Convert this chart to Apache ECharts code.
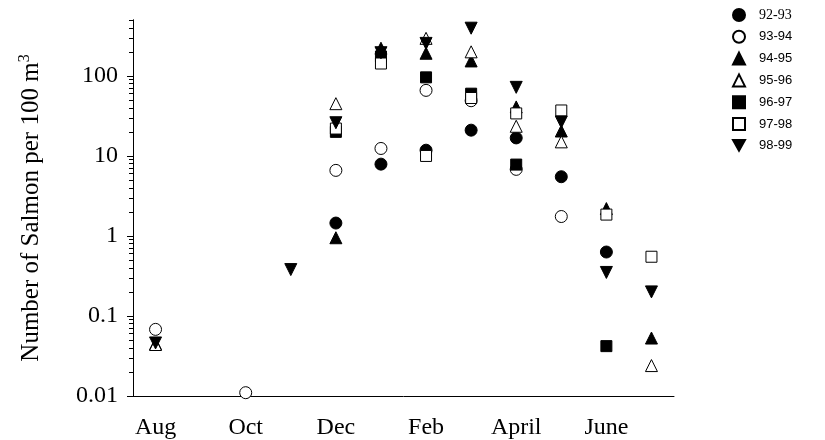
<!DOCTYPE html>
<html>
<head>
<meta charset="utf-8">
<script src="https://cdn.jsdelivr.net/npm/echarts@6/dist/echarts.min.js"></script>
<style>
html,body{margin:0;padding:0;background:#fff;}
#c{width:825px;height:440px;}
</style>
</head>
<body>
<div id="c"></div>
<script>
// Months (category axis), labels shown every other month
const months = ["Aug","Sep","Oct","Nov","Dec","Jan","Feb","Mar","April","May","June","July"];
const seasons = ["92-93","93-94","94-95","95-96","96-97","97-98","98-99"];
// Salmon per 100 m^3, one value per month ('-' = no sample)
const s9293 = ['-','-','-','-',1.45,7.9,11.8,21,16.8,5.5,0.63,'-'];
const s9394 = [0.068,'-',0.011,'-',6.6,12.4,66,49,6.8,1.75,'-','-'];
const s9495 = [0.045,'-','-','-',0.95,222,192,154,41,20.5,2.2,0.053];
const s9596 = [0.044,'-','-','-',45,'-',295,200,23.5,15,'-',0.024];
const s9697 = ['-','-','-','-',20,175,96,60,7.8,'-',0.042,'-'];
const s9798 = ['-','-','-','-',22,143,10,53,34,37,1.85,0.55];
const s9899 = [0.046,'-','-',0.38,26,195,255,395,72,26.5,0.35,0.2];
const yMin = 0.01, yMax = 500;
const yMajor = [0.01,0.1,1,10,100];
const yMinor = [0.02,0.03,0.04,0.05,0.06,0.07,0.08,0.09,0.2,0.3,0.4,0.5,0.6,0.7,0.8,0.9,2,3,4,5,6,7,8,9,20,30,40,50,60,70,80,90,200,300,400,500];

const downTri = 'path://M0,0 L10,0 L5,9 Z';
const styles = [
  {symbol:'circle', fill:'#000', size:12},
  {symbol:'circle', fill:'#fff', size:12},
  {symbol:'triangle', fill:'#000', size:12},
  {symbol:'triangle', fill:'#fff', size:12},
  {symbol:'rect', fill:'#000', size:11},
  {symbol:'rect', fill:'#fff', size:11},
  {symbol:downTri, fill:'#000', size:12}
];
const allData = [s9293,s9394,s9495,s9596,s9697,s9798,s9899];

const series = seasons.map((name,i)=>({
  name: name,
  type: 'scatter',
  xAxisIndex: 0,
  yAxisIndex: 0,
  symbol: styles[i].symbol,
  symbolSize: styles[i].size,
  itemStyle: {color: styles[i].fill, borderColor:'#000', borderWidth:1, opacity:1},
  emphasis: {disabled:true},
  data: allData[i]
}));

const chart = echarts.init(document.getElementById('c'), null, {renderer:'canvas'});
chart.setOption({
  animation: false,
  backgroundColor: '#fff',
  grid: {left:133, right:151, top:20, bottom:44, containLabel:false},
  legend: {
    orient:'vertical', left:727, top:3,
    itemWidth:12, itemHeight:12, itemGap:7.8,
    textStyle:{fontFamily:'Liberation Sans', fontSize:13, color:'#000', padding:[0,0,0,9],
      rich:{s:{fontFamily:'Liberation Serif', fontSize:14, color:'#000'}}},
    formatter: function(n){ return n==='92-93' ? '{s|'+n+'}' : n; },
    data: seasons
  },
  xAxis: {
    type:'category', data: months, boundaryGap:true,
    axisLine:{onZero:false, lineStyle:{color:'#000', width:1}},
    axisTick:{alignWithLabel:true, interval:0, length:5, lineStyle:{color:'#000'}},
    axisLabel:{interval:1, fontFamily:'Liberation Serif', fontSize:24, color:'#000', margin:20},
    splitLine:{show:false}
  },
  yAxis: [{
    type:'log', logBase:10, min:yMin, max:yMax, position:'left',
    axisLine:{show:true, lineStyle:{color:'#000', width:1}},
    axisTick:{show:true, length:6, customValues: yMajor, lineStyle:{color:'#000'}},
    axisLabel:{fontFamily:'Liberation Serif', fontSize:24, color:'#000', margin:15, customValues: yMajor,
      formatter: function(v){ return String(+(+v).toPrecision(6)); }},
    splitLine:{show:false},
    name:'Number of Salmon per 100 m{sup|3}',
    nameLocation:'middle', nameGap:88, nameRotate:90,
    nameTextStyle:{fontFamily:'Liberation Serif', fontSize:25, color:'#000',
      rich:{sup:{fontFamily:'Liberation Serif', fontSize:16, color:'#000', verticalAlign:'top', padding:[0,0,12,0]}}}
  },{
    // minor log ticks, placed on a linear axis in log10 space
    type:'value', min:Math.log10(yMin), max:Math.log10(yMax), position:'left', offset:0,
    axisLine:{show:true, onZero:false, lineStyle:{color:'#000', width:1}},
    axisTick:{show:true, length:4, customValues: yMinor.map(v=>Math.log10(v)), lineStyle:{color:'#000', width:1}},
    axisLabel:{show:false},
    splitLine:{show:false}
  }],
  series: series
});
</script>
</body>
</html>
